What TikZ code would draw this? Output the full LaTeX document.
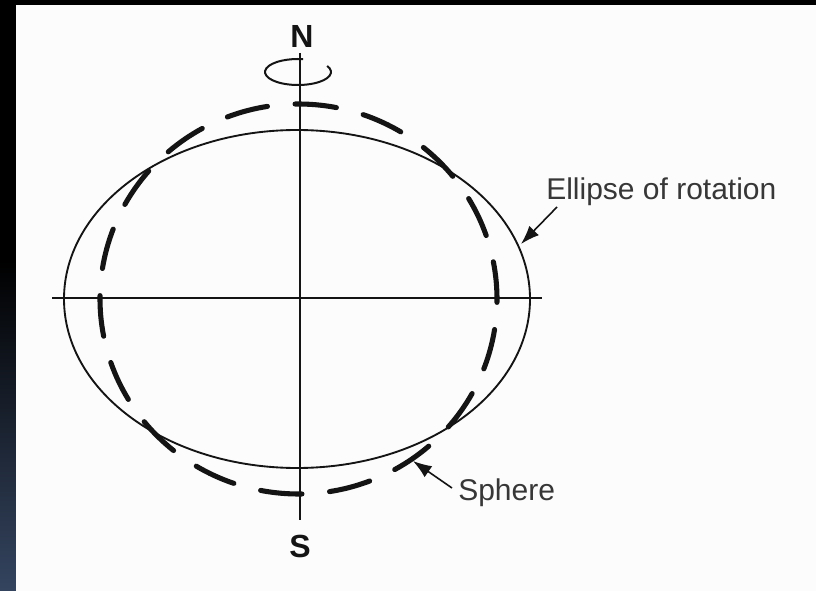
\documentclass[tikz,border=0pt]{standalone}
\usepackage{fontspec}
\setmainfont{Liberation Sans}
\usetikzlibrary{arrows.meta}
\definecolor{bgblue}{HTML}{34445F}
\definecolor{paper}{HTML}{FCFCFC}
\definecolor{ink}{HTML}{141414}
\begin{document}
\begin{tikzpicture}[x=0.75pt,y=-0.75pt,
  axis/.style={draw=ink,line width=1.4pt},
  solidell/.style={draw=ink,line width=1.4pt},
  dashseg/.style={draw=ink,line width=3.8pt,line cap=round},
  pole/.style={font=\fontsize{24}{26}\selectfont\bfseries,text=ink,inner sep=0pt},
  lbl/.style={font=\fontsize{22.5}{26}\selectfont,text=ink!85,inner sep=0pt,anchor=base west},
  pointer/.style={draw=ink,line width=1.2pt,-{Latex[length=14pt,width=10pt]}}]
\useasboundingbox (0,0) rectangle (816,591);
% background
\fill[black] (0,0) rectangle (816,5);
\fill[black] (0,0) rectangle (16,260);
\shade[top color=black,bottom color=bgblue] (0,260) rectangle (16,591);
\fill[paper] (16,5) rectangle (816,591);
% centre
\coordinate (C) at (297,299);
\coordinate (D) at (298.5,299);
% axes
\coordinate (axT) at (300,53);
\coordinate (axB) at (300,520);
\coordinate (axL) at (52,298);
\coordinate (axR) at (542,298);
\draw[axis] (axT) -- (axB);
\draw[axis] (axL) -- (axR);
% ellipse of rotation
\draw[solidell] (C) ellipse [x radius=233, y radius=169];
% dashed sphere
\foreach \c in {15,35,...,355}{
  \draw[dashseg] (D) ++(\c-6:198.5 and 195) arc[start angle=\c-6, end angle=\c+6, x radius=198.5, y radius=195];
}
% rotation ring
\coordinate (R) at (298,72);
\draw[solidell,line width=1.5pt] (R) ++(-28:33 and 13) arc[start angle=-28, end angle=279, x radius=33, y radius=13];
% poles
\node[pole] (N) at (302,36.5) {N};
\node[pole] (S) at (300,546) {S};
% labels
\node[lbl] (ellab) at (546,200) {Ellipse of rotation};
\node[lbl] (sphlab) at (458,500) {Sphere};
\coordinate (elA) at (557,207);
\coordinate (elT) at (521,244);
\coordinate (spA) at (452,488);
\coordinate (spT) at (413,461);
\draw[pointer] (elA) -- (elT);
\draw[pointer] (spA) -- (spT);
\end{tikzpicture}
\end{document}
